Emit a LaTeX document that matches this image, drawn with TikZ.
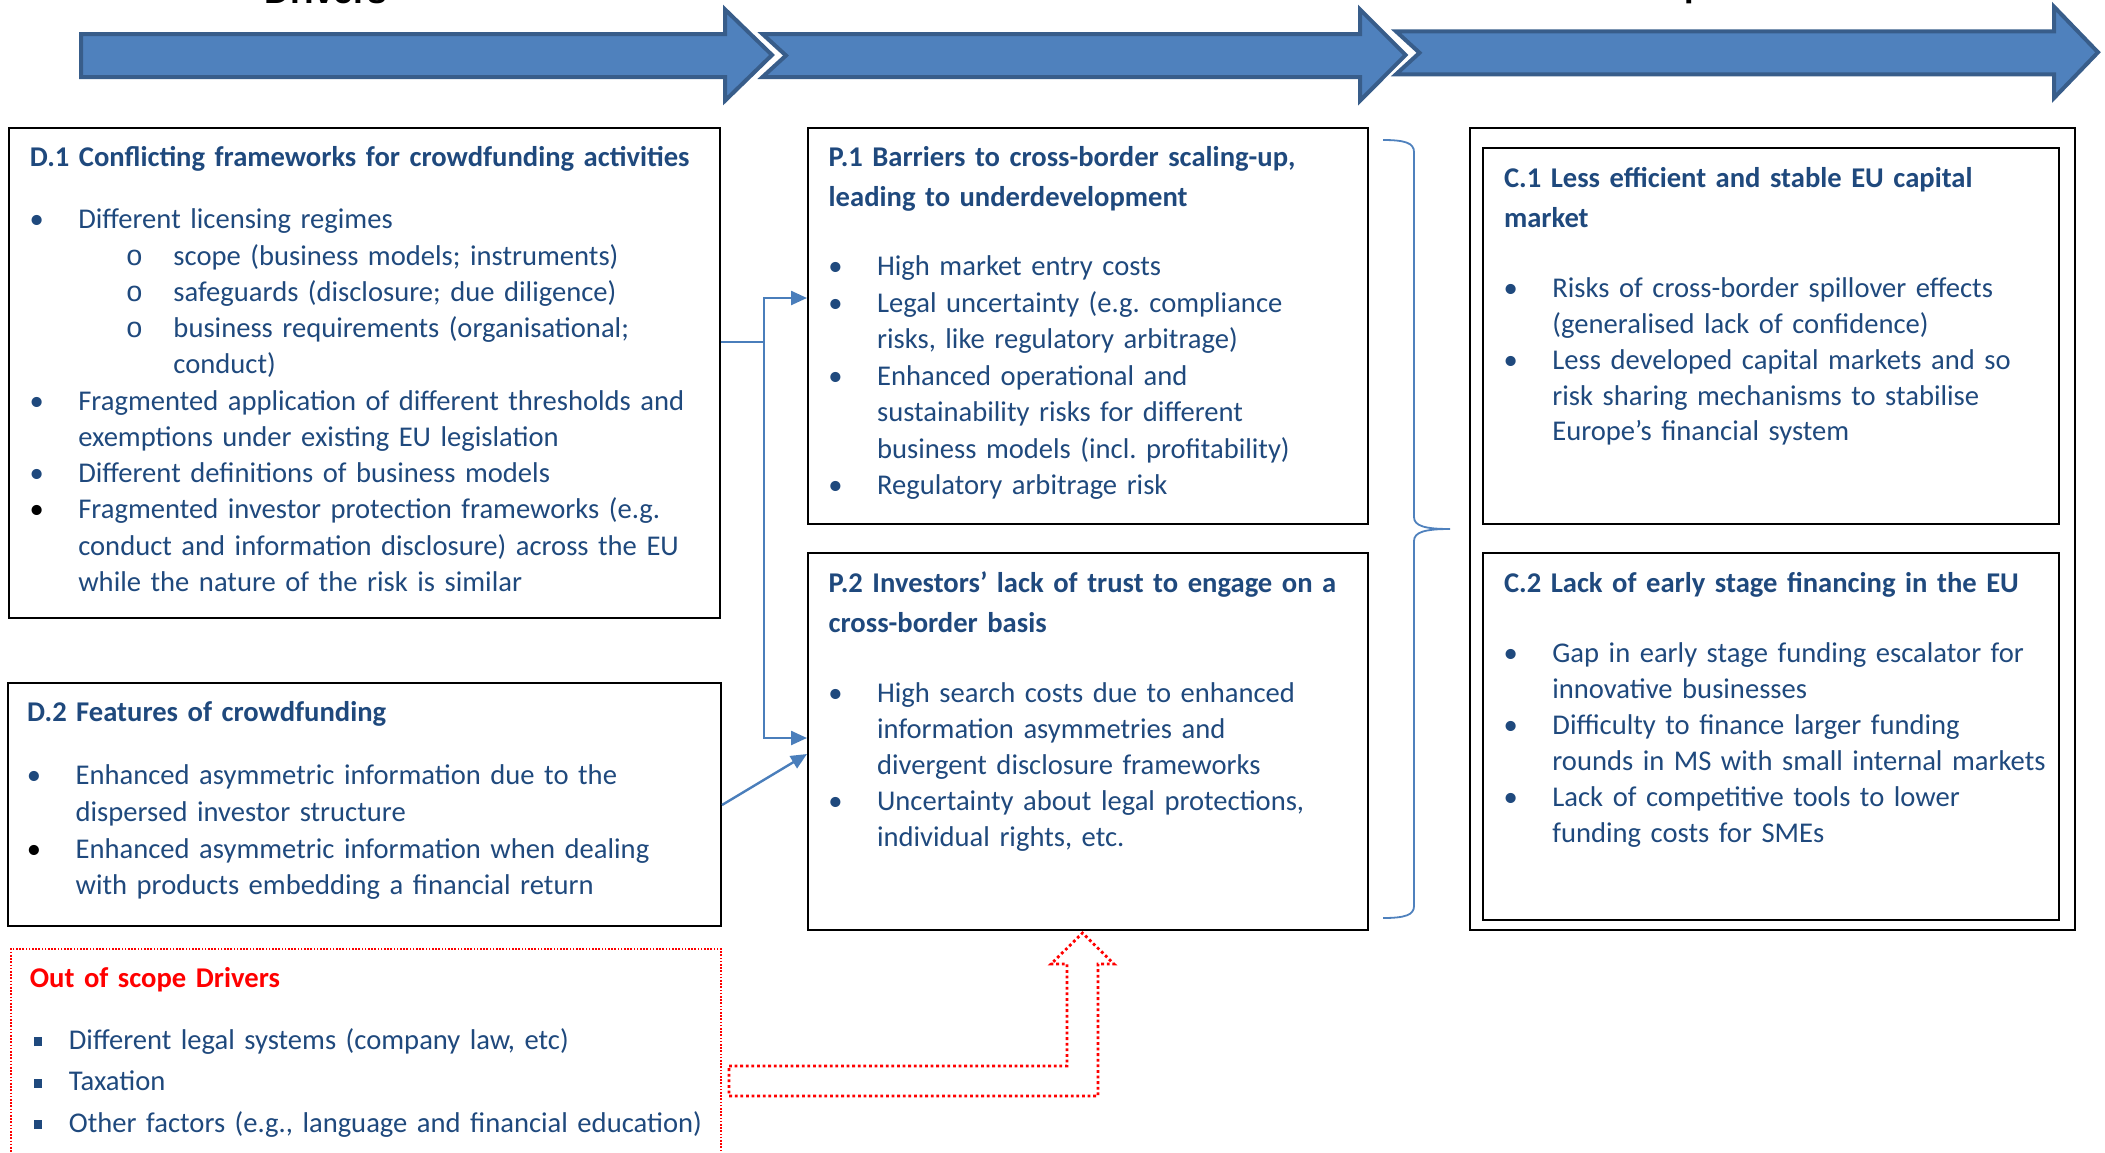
\documentclass[tikz,border=0pt]{standalone}
\usepackage{fontspec}
\setmainfont{Carlito}
\newfontfamily\monofam{Liberation Mono}
\newfontfamily\arialfam{Liberation Sans}
\usetikzlibrary{arrows.meta,fit}
\definecolor{txtblue}{HTML}{1F497D}
\definecolor{arrfill}{HTML}{4F81BD}
\definecolor{arrline}{HTML}{385D8A}
\definecolor{connblue}{HTML}{4A7EBB}
\definecolor{bracecol}{HTML}{4F81BD}
\frenchspacing
\newcommand\bmark[1]{\llap{\makebox[0pt]{\textcolor{#1}{\textbullet}}\hspace{20.8pt}}}
\newcommand\fitm[1][txtblue]{\leftskip=0pt\noindent\bmark{#1}\ignorespaces}
\newcommand\itm[1][txtblue]{\par\leftskip=0pt\noindent\bmark{#1}\ignorespaces}
\newcommand\sitm{\par\leftskip=47.6pt\noindent\llap{\makebox[0pt]{\monofam o}\hspace{19.5pt}}\ignorespaces}
\newcommand\sqmark{\llap{\makebox[0pt]{\rule[1.5pt]{4.2pt}{4.4pt}}\hspace{15.5pt}}}
\newcommand\fsqitm{\noindent\sqmark\ignorespaces}
\newcommand\sqitm{\par\noindent\sqmark\ignorespaces}
\begin{document}
\begin{tikzpicture}[x=0.5pt,y=-0.5pt,
  box/.style={draw=black, line width=1pt, inner sep=0pt},
  redbox/.style={draw=red, line width=0.8pt, dash pattern=on 0.8pt off 0.8pt, inner sep=0pt},
  blk/.style={draw=arrline, fill=arrfill, line width=2pt},
  conn/.style={draw=connblue, line width=1.2pt},
  arr/.style={-{Triangle[length=8pt,width=7pt]}},
  txt/.style={anchor=base west, inner sep=0pt, text width=340pt, align=left, text=txtblue, font=\fontsize{14.3}{#1}\selectfont},
  ttl/.style={anchor=base west, inner sep=0pt, text width=340pt, align=left, text=txtblue, font=\fontsize{14.3}{#1}\selectfont\bfseries},
  toplbl/.style={anchor=base, inner sep=0pt, text=black, font=\arialfam\bfseries\fontsize{17.7}{20}\selectfont}
]
\useasboundingbox (0,0) rectangle (2105,1152);

% top labels (cut by the page edge, as in the reference)
\node[toplbl] (lbldrv) at (326,3) {Drivers};
\node[toplbl] (lblcons) at (1690,-4) {Consequences};

% top block arrows
\draw[blk] (81,34) -- (725,34) -- (725,9.4) -- (772,55) -- (725,100.7) -- (725,77) -- (81,77) -- cycle;
\draw[blk] (762.5,34) -- (1360,34) -- (1360,9.4) -- (1405.6,55) -- (1360,100.7) -- (1360,77) -- (762.5,77) -- (786,55.5) -- cycle;
\draw[blk] (1396,31.3) -- (2054,31.3) -- (2054,6.7) -- (2098,52.3) -- (2054,98) -- (2054,74.3) -- (1396,74.3) -- (1419.5,52.8) -- cycle;

% boxes
\node[box, fit={(9.4,127.5) (719.6,617.6)}] (d1) {};
\node[box, fit={(8,683) (721,926)}] (d2) {};
\node[redbox, fit={(10.7,949) (721,1180)}] (oos) {};
\node[box, fit={(808,127.5) (1368,523.6)}] (p1) {};
\node[box, fit={(808,553) (1368,930)}] (p2) {};
\node[box, fit={(1470,127.5) (2075,930)}] (cbox) {};
\node[box, fit={(1483,148) (2059,523.6)}] (c1) {};
\node[box, fit={(1483,553) (2059,920)}] (c2) {};

% D.1
\node[ttl=20.15] (d1t) at (29.5,166) {D.1 Conflicting frameworks for crowdfunding activities};
\node[txt=18.125] (d1b) at (77.9,228.8) {\fitm Different licensing regimes
\sitm scope (business models; instruments)
\sitm safeguards (disclosure; due diligence)
\sitm business requirements (organisational;\newline conduct)
\itm Fragmented application of different thresholds and\newline exemptions under existing EU legislation
\itm Different definitions of business models
\itm[black] Fragmented investor protection frameworks (e.g.\newline conduct and information disclosure) across the EU\newline while the nature of the risk is similar};

% D.2
\node[ttl=20.15] (d2t) at (26.8,721.5) {D.2 Features of crowdfunding};
\node[txt=18.35] (d2b) at (75.2,784.6) {\fitm Enhanced asymmetric information due to the\newline dispersed investor structure
\itm[black] Enhanced asymmetric information when dealing\newline with products embedding a financial return};

% Out of scope
\node[ttl=20.15, text=red] (oost) at (29.5,987) {Out of scope Drivers};
\node[txt=20.8] (oosb) at (68.5,1049) {\fsqitm Different legal systems (company law, etc)
\sqitm Taxation
\sqitm Other factors (e.g., language and financial education)};

% P.1
\node[ttl=20.15] (p1t) at (828.3,166) {P.1 Barriers to cross-border scaling-up,\newline leading to underdevelopment};
\node[txt=18.25] (p1b) at (876.7,275.8) {\fitm High market entry costs
\itm Legal uncertainty (e.g. compliance\newline risks, like regulatory arbitrage)
\itm Enhanced operational and\newline sustainability risks for different\newline business models (incl. profitability)
\itm Regulatory arbitrage risk};

% P.2
\node[ttl=20.15] (p2t) at (828.3,592.6) {P.2 Investors' lack of trust to engage on a\newline cross-border basis};
\node[txt=17.96] (p2b) at (876.7,702.7) {\fitm High search costs due to enhanced\newline information asymmetries and\newline divergent disclosure frameworks
\itm Uncertainty about legal protections,\newline individual rights, etc.};

% C.1
\node[ttl=20.15] (c1t) at (1503.6,187.2) {C.1 Less efficient and stable EU capital\newline market};
\node[txt=17.96] (c1b) at (1552,297.3) {\fitm Risks of cross-border spillover effects\newline (generalised lack of confidence)
\itm Less developed capital markets and so\newline risk sharing mechanisms to stabilise\newline Europe's financial system};

% C.2
\node[ttl=20.15] (c2t) at (1503.6,592.6) {C.2 Lack of early stage financing in the EU};
\node[txt=18] (c2b) at (1552,662.5) {\fitm Gap in early stage funding escalator for\newline innovative businesses
\itm Difficulty to finance larger funding\newline rounds in MS with small internal markets
\itm Lack of competitive tools to lower\newline funding costs for SMEs};

% connectors
\coordinate (jn) at (764,342);
\coordinate (ya) at (0,298);
\coordinate (yb) at (0,738);
\coordinate (yc) at (0,805);
\coordinate (yd) at (0,754);
\draw[conn] (d1.east |- jn) -- (jn);
\draw[conn,arr] (jn) |- (p1.west |- ya);
\draw[conn,arr] (jn) |- (p2.west |- yb);
\draw[conn,arr] (d2.east |- yc) -- (p2.west |- yd);

% brace
\draw[draw=bracecol, line width=0.9pt] (1383,140) .. controls (1405,140) and (1414,143) .. (1414,152) -- (1414,517) .. controls (1414,526) and (1425,529) .. (1450,529) .. controls (1425,529) and (1414,532) .. (1414,541) -- (1414,906) .. controls (1414,915) and (1405,918) .. (1383,918);

% red dotted bent arrow
\draw[draw=red, line width=1.4pt, dash pattern=on 1.4pt off 1.4pt] (729,1066) -- (1067,1066) -- (1067,964) -- (1051,964) -- (1082.5,933) -- (1114,964) -- (1098,964) -- (1098,1096) -- (729,1096) -- cycle;
\end{tikzpicture}
\end{document}
